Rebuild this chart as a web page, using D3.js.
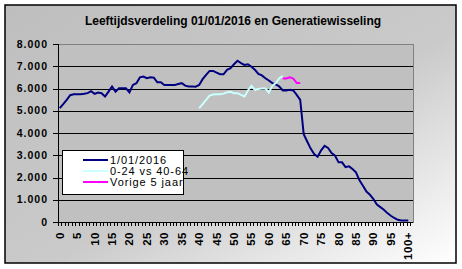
<!DOCTYPE html>
<html>
<head>
<meta charset="utf-8">
<style>
  body { margin: 0; background: #fff; }
  text { font-family: Arial, "Liberation Sans", sans-serif; }
</style>
</head>
<body>
<script src="https://d3js.org/d3.v7.min.js"></script>
<script>
    // categories: age 0 .. 99, then 100+
    var ages = d3.range(0, 100).map(String).concat(["100+"]);

    // 1/01/2016
    var pop2016 = [
        5120, 5300, 5490, 5700, 5740, 5740, 5740, 5760, 5790, 5880,
        5760, 5820, 5790, 5640, 5860, 6090, 5860, 6010, 6010, 6010,
        5820, 6160, 6240, 6500, 6540, 6460, 6500, 6490, 6280, 6280,
        6160, 6160, 6160, 6160, 6200, 6240, 6130, 6090, 6090, 6080,
        6160, 6420, 6610, 6790, 6790, 6710, 6640, 6640, 6840, 6910,
        7090, 7250, 7140, 7060, 7090, 6980, 6840, 6660, 6590, 6460,
        6360, 6240, 6180, 6090, 5910, 5910, 5940, 5910, 5710, 5490,
        3950, 3620, 3300, 3050, 2930, 3220, 3420, 3330, 3100, 2980,
        2680, 2680, 2470, 2500, 2380, 2230, 1870, 1630, 1370, 1230,
        1030, 780, 670, 550, 400, 280, 180, 100, 70, 70,
        70
    ];

    // 0-24 vs 40-64 (drawn from age 40)
    var youngStart = 40;
    var young = [
        5120, 5300, 5490, 5680, 5730, 5740, 5740, 5770, 5830, 5850,
        5790, 5790, 5710, 5640, 5910, 6120, 5940, 5980, 6000, 6000,
        5820, 6120, 6240, 6460, 6570
    ];

    // Vorige 5 jaar (drawn from age 64)
    var prevStart = 64;
    var prev5 = [6450, 6450, 6500, 6450, 6250, 6250];

    var yTicks = [0, 1000, 2000, 3000, 4000, 5000, 6000, 7000, 8000];
    var xLabels = ["0", "5", "10", "15", "20", "25", "30", "35", "40", "45", "50",
        "55", "60", "65", "70", "75", "80", "85", "90", "95", "100+"];
    var legendNames = ["1/01/2016", "0-24 vs 40-64", "Vorige 5 jaar"];
    var colors = ["#000080", "#ccffff", "#ff00ff"];

    var width = 462, height = 269;
    var pl = 58, pr = 413, pt = 44, pb = 222;

    var fmt = d3.formatLocale({ decimal: ",", thousands: ".", grouping: [3], currency: ["", ""] }).format(",d");

    var svg = d3.select("body").append("svg")
        .attr("width", width)
        .attr("height", height);

    var grad = svg.append("defs").append("linearGradient")
        .attr("id", "bg").attr("x1", 0).attr("y1", 0).attr("x2", 1).attr("y2", 1);
    grad.append("stop").attr("offset", "0%").attr("stop-color", "#bebebe");
    grad.append("stop").attr("offset", "55%").attr("stop-color", "#cacaca");
    grad.append("stop").attr("offset", "100%").attr("stop-color", "#ffffff");

    // chart area
    svg.append("rect")
        .attr("x", 5).attr("y", 5)
        .attr("width", 451).attr("height", 258)
        .attr("fill", "url(#bg)")
        .attr("stroke", "#000").attr("stroke-width", 1.5);

    svg.append("text")
        .attr("x", 233).attr("y", 25)
        .attr("text-anchor", "middle")
        .style("font-size", "12px").style("font-weight", "bold")
        .text("Leeftijdsverdeling 01/01/2016 en Generatiewisseling");

    var x = d3.scaleBand().domain(ages).range([pl, 410]);
    var y = d3.scaleLinear().domain([0, 8000]).range([pb, pt]);
    var bw = x.bandwidth();

    // plot area
    svg.append("rect")
        .attr("x", pl + 0.5).attr("y", pt + 0.5)
        .attr("width", pr - pl).attr("height", pb - pt)
        .attr("fill", "#c0c0c0")
        .attr("stroke", "#808080");

    svg.append("g").selectAll("line")
        .data(yTicks.filter(function (d) { return d > 0 && d < 8000; }))
        .enter().append("line")
        .attr("x1", pl).attr("x2", pr)
        .attr("y1", function (d) { return Math.round(y(d)) + 0.5; })
        .attr("y2", function (d) { return Math.round(y(d)) + 0.5; })
        .attr("stroke", "#000");

    // y axis
    var ya = svg.append("g");
    ya.append("line")
        .attr("x1", pl + 0.5).attr("x2", pl + 0.5)
        .attr("y1", pt).attr("y2", pb + 1)
        .attr("stroke", "#000");
    ya.selectAll(".tk").data(yTicks).enter().append("line")
        .attr("x1", pl - 5).attr("x2", pl)
        .attr("y1", function (d) { return Math.round(y(d)) + 0.5; })
        .attr("y2", function (d) { return Math.round(y(d)) + 0.5; })
        .attr("stroke", "#000");
    ya.selectAll("text").data(yTicks).enter().append("text")
        .attr("x", 48)
        .attr("y", function (d) { return y(d); })
        .attr("dy", "0.35em")
        .attr("text-anchor", "end")
        .style("font-size", "10.5px").style("font-weight", "bold")
        .style("letter-spacing", "1px")
        .text(function (d) { return fmt(d); });

    // x axis
    var xa = svg.append("g");
    xa.append("line")
        .attr("x1", pl).attr("x2", pr)
        .attr("y1", pb + 0.5).attr("y2", pb + 0.5)
        .attr("stroke", "#000");
    xa.selectAll(".tk").data(ages.concat(["end"])).enter().append("line")
        .attr("x1", function (d) { return d === "end" ? 410.5 : Math.round(x(d)) + 0.5; })
        .attr("x2", function (d) { return d === "end" ? 410.5 : Math.round(x(d)) + 0.5; })
        .attr("y1", pb).attr("y2", pb + 4)
        .attr("stroke", "#000");
    xa.selectAll("text").data(xLabels).enter().append("text")
        .attr("transform", function (d) {
            return "translate(" + (x(d) + bw / 2) + "," + 232 + ") rotate(-90)";
        })
        .attr("dy", "0.35em")
        .attr("text-anchor", "end")
        .style("font-size", "11.5px").style("font-weight", "bold")
        .style("letter-spacing", "0.5px")
        .text(function (d) { return d; });

    // series lines
    function drawSeries(values, start, color) {
        var line = d3.line()
            .x(function (d, i) { return x(ages[start + i]) + bw / 2; })
            .y(function (d) { return y(d); });
        svg.append("path")
            .datum(values)
            .attr("d", line)
            .attr("fill", "none")
            .attr("stroke", color)
            .attr("stroke-width", 2);
    }
    drawSeries(pop2016, 0, colors[0]);
    drawSeries(young, youngStart, colors[1]);
    drawSeries(prev5, prevStart, colors[2]);

    // legend
    var lg = svg.append("g");
    lg.append("rect")
        .attr("x", 62.5).attr("y", 150.5)
        .attr("width", 121).attr("height", 44)
        .attr("fill", "#fff").attr("stroke", "#000");
    var rows = lg.selectAll(".row").data(legendNames).enter().append("g")
        .attr("transform", function (d, i) { return "translate(0," + (160 + i * 11) + ")"; });
    rows.append("line")
        .attr("x1", 83).attr("x2", 108)
        .attr("stroke", function (d, i) { return colors[i]; })
        .attr("stroke-width", 2);
    rows.append("text")
        .attr("x", 110).attr("dy", "0.35em")
        .style("font-size", "11px")
        .style("letter-spacing", "0.9px")
        .text(function (d) { return d; });
</script>
</body>
</html>
